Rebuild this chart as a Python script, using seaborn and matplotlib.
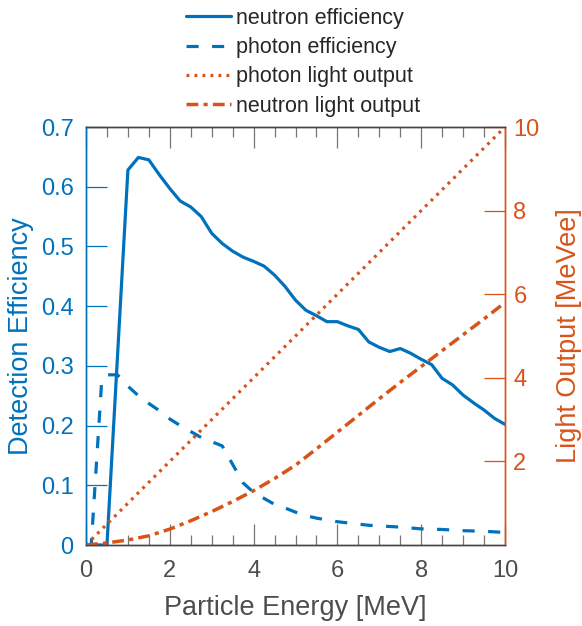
import numpy as np
import pandas as pd
import seaborn as sns
import matplotlib
matplotlib.use("Agg")
import matplotlib.pyplot as plt
from matplotlib.ticker import MultipleLocator, FixedLocator

# ---------------- data ----------------
n_eff_x = [0, 0.25, 0.5, 1.0, 1.25, 1.5, 1.75, 2.0, 2.25, 2.5, 2.75, 3.0, 3.25, 3.5,
           3.75, 4.0, 4.25, 4.5, 4.75, 5.0, 5.25, 5.5, 5.75, 6.0, 6.25, 6.5, 6.75,
           7.0, 7.25, 7.5, 7.75, 8.0, 8.25, 8.5, 8.75, 9.0, 9.25, 9.5, 9.75, 10.0]
n_eff_y = [0, 0, 0, 0.628, 0.649, 0.645, 0.620, 0.597, 0.576, 0.566, 0.550, 0.522,
           0.505, 0.492, 0.482, 0.475, 0.467, 0.452, 0.433, 0.410, 0.393, 0.384,
           0.374, 0.374, 0.367, 0.361, 0.340, 0.331, 0.324, 0.329, 0.321, 0.311,
           0.302, 0.279, 0.268, 0.251, 0.238, 0.226, 0.212, 0.202]

p_eff_x = [0, 0.125, 0.375, 0.5, 0.75, 1.0, 1.25, 1.5, 1.75, 2.0, 2.25, 2.5, 2.75,
           3.0, 3.25, 3.5, 3.75, 4.0, 4.25, 4.5, 4.75, 5.0, 5.25, 5.5, 5.75, 6.0,
           6.25, 6.5, 6.75, 7.0, 7.5, 8.0, 8.5, 9.0, 9.5, 10.0]
p_eff_y = [0, 0, 0.275, 0.285, 0.285, 0.266, 0.250, 0.237, 0.225, 0.211, 0.200,
           0.190, 0.180, 0.173, 0.166, 0.135, 0.104, 0.088, 0.078, 0.068, 0.062,
           0.055, 0.049, 0.045, 0.042, 0.039, 0.037, 0.035, 0.033, 0.032, 0.030,
           0.027, 0.026, 0.024, 0.023, 0.021]

p_lo_x = [0, 1, 2, 3, 4, 5, 6, 7, 8, 9, 10]
p_lo_y = [0, 1, 2, 3, 4, 5, 6, 7, 8, 9, 10]

n_lo_x = [0, 0.5, 1.0, 1.5, 2.0, 2.5, 3.0, 3.5, 4.0, 4.5, 5.0, 5.5, 6.0, 6.5, 7.0,
          7.5, 8.0, 8.5, 9.0, 9.5, 10.0]
n_lo_y = [0, 0.05, 0.12, 0.22, 0.38, 0.58, 0.80, 1.04, 1.30, 1.59, 1.91, 2.30,
          2.70, 3.10, 3.50, 3.89, 4.27, 4.65, 5.03, 5.41, 5.80]

labels = ["neutron efficiency", "photon efficiency", "photon light output",
          "neutron light output"]
x_label = "Particle Energy [MeV]"
y_label_left = "Detection Efficiency"
y_label_right = "Light Output [MeVee]"

BLUE = "#0072BD"
ORANGE = "#D95319"
GRAY = "#4d4d4d"

# ---------------- style ----------------
sns.set_theme(style="white")
plt.rcParams["font.family"] = ["Liberation Sans", "DejaVu Sans"]

fig = plt.figure(figsize=(5.82, 6.26), dpi=100)
ax = fig.add_axes([86 / 582, 81 / 626, 419 / 582, 418 / 626])
ax2 = ax.twinx()

sns.lineplot(x=n_eff_x, y=n_eff_y, ax=ax, color=BLUE, lw=2.3, label=labels[0],
             legend=False)
sns.lineplot(x=p_eff_x, y=p_eff_y, ax=ax, color=BLUE, lw=2.3, label=labels[1],
             legend=False)
ax.lines[1].set_dashes([3.8, 4.2])

sns.lineplot(x=p_lo_x, y=p_lo_y, ax=ax2, color=ORANGE, lw=2.3, label=labels[2],
             legend=False)
ax2.lines[0].set_dashes([0.9, 1.6])
sns.lineplot(x=n_lo_x, y=n_lo_y, ax=ax2, color=ORANGE, lw=2.5, label=labels[3],
             legend=False)
ax2.lines[1].set_dashes([3.4, 1.5, 1.2, 1.5])

ax.set_xlim(0, 10)
ax.set_ylim(0, 0.7)
ax2.set_ylim(0, 10)

ax.xaxis.set_major_locator(MultipleLocator(2))
ax.xaxis.set_minor_locator(MultipleLocator(0.5))
ax.yaxis.set_major_locator(MultipleLocator(0.1))
ax2.yaxis.set_major_locator(FixedLocator([2, 4, 6, 8, 10]))

ax.tick_params(axis="x", which="major", direction="in", length=15, width=0.9,
               color="#777777", top=True, bottom=True, labelsize=17,
               labelcolor=GRAY, pad=11)
ax.tick_params(axis="x", which="minor", direction="in", length=7.5, width=0.9,
               color="#777777", top=True, bottom=True)
ax.tick_params(axis="y", which="major", direction="in", length=15, width=0.9,
               color=BLUE, left=True, right=False, labelsize=17,
               labelcolor=BLUE, pad=9)
ax2.tick_params(axis="y", which="major", direction="in", length=15, width=0.9,
                color=ORANGE, right=True, left=False, labelsize=17,
                labelcolor=ORANGE, pad=6)

ax.yaxis.set_major_formatter(matplotlib.ticker.FuncFormatter(
    lambda v, p: "0" if abs(v) < 1e-9 else f"{v:.1f}"))

for a in (ax, ax2):
    for s in a.spines.values():
        s.set_linewidth(1.0)
for a in (ax, ax2):
    a.spines["bottom"].set_color("#444444")
    a.spines["top"].set_color("#444444")
    a.spines["left"].set_color(BLUE)
    a.spines["right"].set_color(ORANGE)

ax.set_xlabel(x_label, fontsize=19.5, color=GRAY, labelpad=9)
ax.set_ylabel(y_label_left, fontsize=19.5, color=BLUE, labelpad=5)
ax2.set_ylabel(y_label_right, fontsize=19.5, color=ORANGE, labelpad=12)
ax.grid(False)
ax2.grid(False)

handles = ax.lines[:2] + ax2.lines[:2]
leg = fig.legend(handles, labels, loc="upper left",
                 bbox_to_anchor=(186 / 582, 1 - 8 / 626),
                 frameon=False, fontsize=15.5, handlelength=2.1, handletextpad=0.2,
                 labelspacing=0.38, borderpad=0, borderaxespad=0)
for t in leg.get_texts():
    t.set_color("#262626")

fig.savefig("out.png", dpi=100)
